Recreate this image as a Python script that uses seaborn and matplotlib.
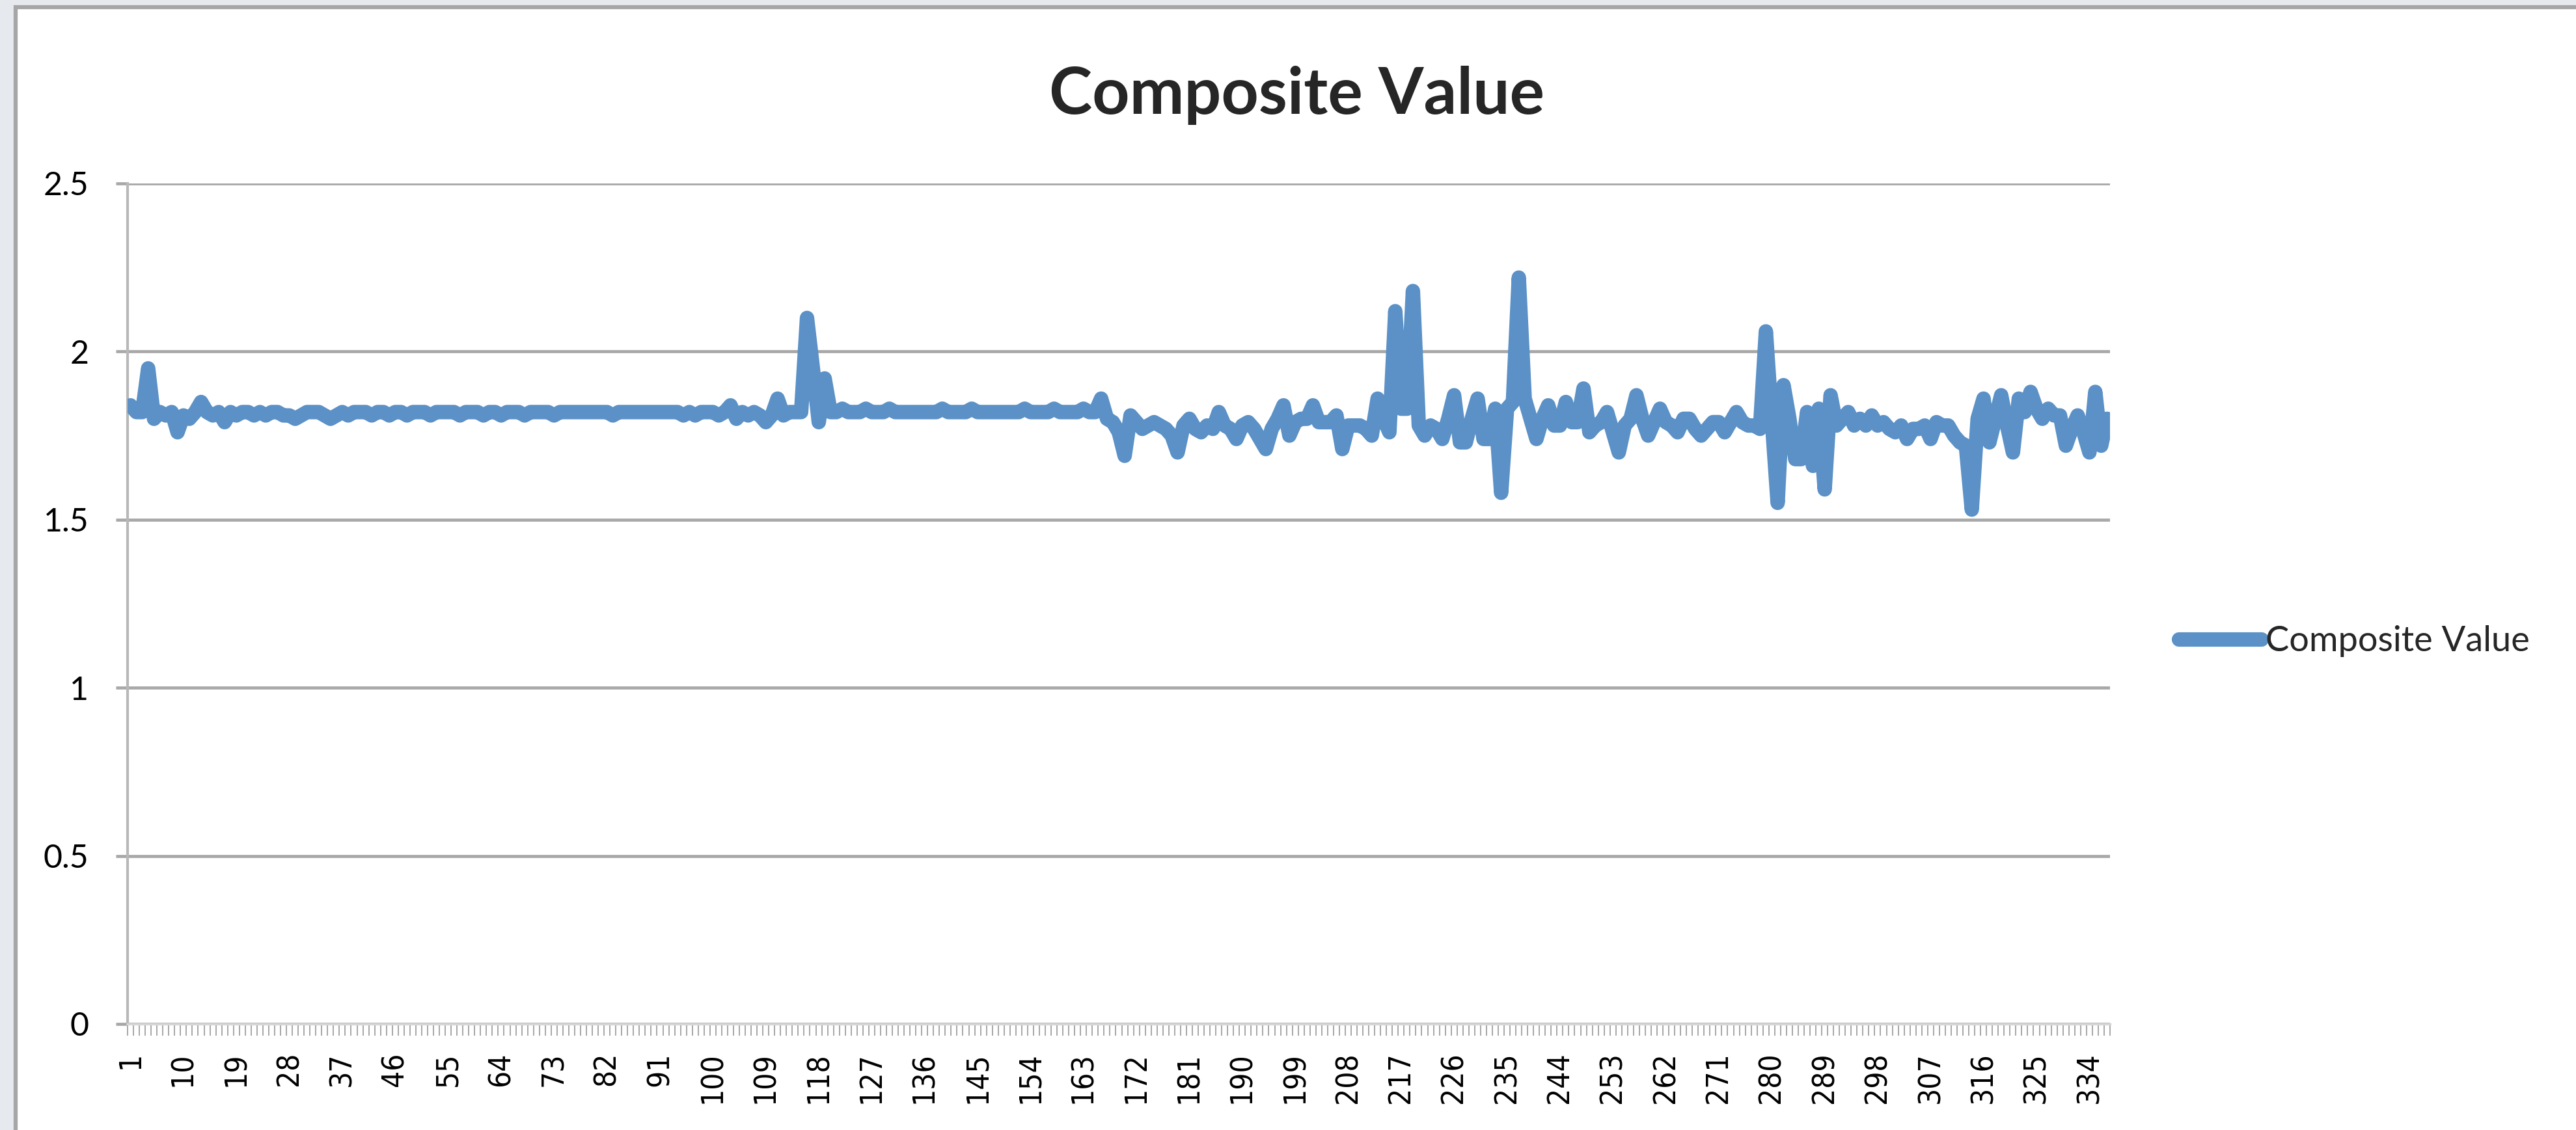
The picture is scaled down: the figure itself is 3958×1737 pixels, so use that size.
import matplotlib
matplotlib.use("Agg")
import matplotlib.pyplot as plt
from matplotlib.patches import Rectangle
import numpy as np
import pandas as pd
import seaborn as sns

# ---- Data ----
series_name = "Composite Value"
composite_value = [
    1.84, 1.82, 1.82, 1.95, 1.80, 1.82, 1.81, 1.82, 1.76, 1.81,
    1.80, 1.82, 1.85, 1.82, 1.81, 1.82, 1.79, 1.82, 1.81, 1.82,
    1.82, 1.81, 1.82, 1.81, 1.82, 1.82, 1.81, 1.81, 1.80, 1.81,
    1.82, 1.82, 1.82, 1.81, 1.80, 1.81, 1.82, 1.81, 1.82, 1.82,
    1.82, 1.81, 1.82, 1.82, 1.81, 1.82, 1.82, 1.81, 1.82, 1.82,
    1.82, 1.81, 1.82, 1.82, 1.82, 1.82, 1.81, 1.82, 1.82, 1.82,
    1.81, 1.82, 1.82, 1.81, 1.82, 1.82, 1.82, 1.81, 1.82, 1.82,
    1.82, 1.82, 1.81, 1.82, 1.82, 1.82, 1.82, 1.82, 1.82, 1.82,
    1.82, 1.82, 1.81, 1.82, 1.82, 1.82, 1.82, 1.82, 1.82, 1.82,
    1.82, 1.82, 1.82, 1.82, 1.81, 1.82, 1.81, 1.82, 1.82, 1.82,
    1.81, 1.82, 1.84, 1.80, 1.82, 1.81, 1.82, 1.81, 1.79, 1.81,
    1.86, 1.81, 1.82, 1.82, 1.82, 2.10, 1.95, 1.79, 1.92, 1.82,
    1.82, 1.83, 1.82, 1.82, 1.82, 1.83, 1.82, 1.82, 1.82, 1.83,
    1.82, 1.82, 1.82, 1.82, 1.82, 1.82, 1.82, 1.82, 1.83, 1.82,
    1.82, 1.82, 1.82, 1.83, 1.82, 1.82, 1.82, 1.82, 1.82, 1.82,
    1.82, 1.82, 1.83, 1.82, 1.82, 1.82, 1.82, 1.83, 1.82, 1.82,
    1.82, 1.82, 1.83, 1.82, 1.82, 1.86, 1.80, 1.79, 1.76, 1.69,
    1.81, 1.79, 1.77, 1.78, 1.79, 1.78, 1.77, 1.75, 1.70, 1.78,
    1.80, 1.77, 1.76, 1.78, 1.77, 1.82, 1.78, 1.77, 1.74, 1.78,
    1.79, 1.77, 1.74, 1.71, 1.77, 1.80, 1.84, 1.75, 1.79, 1.80,
    1.80, 1.84, 1.79, 1.79, 1.79, 1.81, 1.71, 1.78, 1.78, 1.78,
    1.77, 1.75, 1.86, 1.80, 1.76, 2.12, 1.83, 1.83, 2.18, 1.78,
    1.75, 1.78, 1.77, 1.74, 1.80, 1.87, 1.73, 1.73, 1.80, 1.86,
    1.74, 1.74, 1.83, 1.58, 1.83, 1.85, 2.22, 1.86, 1.80, 1.74,
    1.80, 1.84, 1.78, 1.78, 1.85, 1.79, 1.79, 1.89, 1.76, 1.78,
    1.79, 1.82, 1.76, 1.70, 1.78, 1.80, 1.87, 1.80, 1.75, 1.79,
    1.83, 1.79, 1.78, 1.76, 1.80, 1.80, 1.77, 1.75, 1.77, 1.79,
    1.79, 1.76, 1.79, 1.82, 1.79, 1.78, 1.78, 1.77, 2.06, 1.80,
    1.55, 1.90, 1.80, 1.68, 1.68, 1.82, 1.66, 1.83, 1.59, 1.87,
    1.78, 1.80, 1.82, 1.78, 1.80, 1.78, 1.81, 1.78, 1.79, 1.77,
    1.76, 1.78, 1.74, 1.77, 1.77, 1.78, 1.74, 1.79, 1.78, 1.78,
    1.75, 1.73, 1.72, 1.53, 1.80, 1.86, 1.73, 1.80, 1.87, 1.78,
    1.70, 1.86, 1.82, 1.88, 1.83, 1.80, 1.83, 1.81, 1.81, 1.72,
    1.77, 1.81, 1.76, 1.70, 1.88, 1.72, 1.80,
]
categories = list(range(1, len(composite_value) + 1))
x_tick_positions = categories[::9]
x_tick_labels = [str(c) for c in x_tick_positions]
y_ticks = [0, 0.5, 1, 1.5, 2, 2.5]
y_tick_labels = ["0", "0.5", "1", "1.5", "2", "2.5"]

# ---- Style ----
sns.set_style("white")
plt.rcParams["font.family"] = ["Lato", "DejaVu Sans"]

LINE_COLOR = "#5B91C6"
GRID_COLOR = "#A8A8A8"

W, H = 3958, 1737
fig = plt.figure(figsize=(W / 100, H / 100), dpi=100)
fig.patch.set_facecolor("#E6E9ED")
# white chart area inside the grey window frame
fig.patches.append(Rectangle((24 / W, -0.01), 1.0, (H - 11) / H + 0.01,
                             transform=fig.transFigure, facecolor="white",
                             edgecolor="#A6A6A6", linewidth=4.5, zorder=-10))

ax = fig.add_axes([196 / W, 1 - 1574 / H, (3242 - 196) / W, (1574 - 282) / H])
ax.set_facecolor("none")

df = pd.DataFrame({"Category": categories, series_name: composite_value})
sns.lineplot(data=df, x="Category", y=series_name, ax=ax, color=LINE_COLOR,
             linewidth=16, solid_joinstyle="round", solid_capstyle="round",
             legend=False, zorder=3)

# ---- Axes ----
n = len(categories)
ax.set_xlim(0.5, n + 0.5)
ax.set_ylim(0, 2.5)
ax.set_xlabel("")
ax.set_ylabel("")

ax.set_yticks(y_ticks, y_tick_labels)
ax.yaxis.grid(True, color=GRID_COLOR, linewidth=3.4)
ax.xaxis.grid(False)
ax.tick_params(axis="y", left=True, length=13, width=3.4, color=GRID_COLOR,
               pad=30, labelsize=36, labelcolor="black", direction="out")

ax.set_xticks(x_tick_positions, x_tick_labels, rotation=90)
ax.set_xticks(np.arange(0.5, n + 1), minor=True)
ax.tick_params(axis="x", which="major", length=0, pad=31, labelsize=33,
               labelcolor="black")
ax.tick_params(axis="x", which="minor", bottom=True, length=13, width=1.3,
               color="#A0A0A0", direction="out")
for lbl in ax.get_xticklabels():
    lbl.set_fontfamily("DejaVu Sans")
    lbl.set_fontstretch("condensed")

for side in ["top", "right"]:
    ax.spines[side].set_visible(False)
ax.spines["left"].set_color("#B8B8B8")
ax.spines["left"].set_linewidth(3)
ax.spines["bottom"].set_color("#D6D6D6")
ax.spines["bottom"].set_linewidth(2.5)

# ---- Title and legend ----
fig.text(1992 / W, 1 - 146 / H, "Composite Value", ha="center", va="center",
         fontsize=72, fontweight="bold")

fig.legend(ax.get_lines()[:1], [series_name], loc="center left",
           bbox_to_anchor=(3348 / W, 1 - 986 / H), frameon=False, fontsize=39,
           handlelength=2.35, handletextpad=0.1, borderpad=0, borderaxespad=0)

fig.savefig("out.png", dpi=100, facecolor=fig.get_facecolor())
